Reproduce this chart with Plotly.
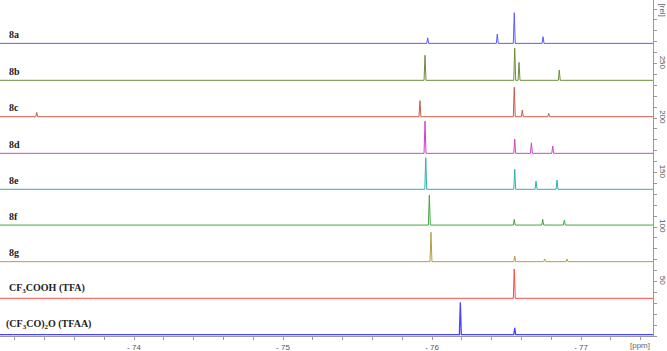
import plotly.graph_objects as go

# ---- data ----
labels = ["8a", "8b", "8c", "8d", "8e", "8f", "8g",
          "CF<sub>3</sub>COOH (TFA)", "(CF<sub>3</sub>CO)<sub>2</sub>O (TFAA)"]
offsets = [268.5, 234.6, 201.2, 167.6, 134.6, 101.8, 68.2, 34.6, 1.2]
peak_ppm = [
    [-75.971, -76.438, -76.552, -76.745],
    [-75.953, -76.555, -76.584, -76.854],
    [-73.347, -75.919, -76.552, -76.606, -76.783],
    [-75.953, -76.555, -76.667, -76.810],
    [-75.958, -76.555, -76.698, -76.839],
    [-75.982, -76.552, -76.743, -76.888],
    [-75.993, -76.555, -76.756, -76.906],
    [-76.552],
    [-76.190, -76.555],
]
peak_height = [
    [5.1, 8.5, 28.1, 6.1],
    [23.0, 29.4, 16.5, 9.4],
    [4.0, 14.7, 27.0, 6.1, 3.1],
    [29.6, 13.1, 9.7, 6.7],
    [29.0, 18.3, 7.6, 8.5],
    [27.5, 5.2, 5.2, 4.6],
    [27.0, 5.2, 2.5, 2.5],
    [26.9],
    [29.7, 6.4],
]
x_tick_vals = [-74, -75, -76, -77]
x_tick_text = ["- 74", "- 75", "- 76", "- 77"]
y_tick_vals = [50, 100, 150, 200, 250]

# ---- styles ----
colors = ["#5a5aff", "#6b8e3a", "#c85a48", "#d040d0", "#30b0b0",
          "#40a840", "#b0a040", "#ff4545", "#4545ff"]
X_LEFT, X_RIGHT = -73.1007, -77.483
W = 0.0065

fig = go.Figure()
for lab, off, pp, hh, col in zip(labels, offsets, peak_ppm, peak_height, colors):
    xs = [X_LEFT]
    ys = [off]
    for p, h in sorted(zip(pp, hh), key=lambda t: -t[0]):
        xs += [p + W, p, p - W]
        ys += [off, off + h, off]
    xs.append(X_RIGHT)
    ys.append(off)
    fig.add_trace(go.Scatter(x=xs, y=ys, mode="lines",
                             line=dict(color=col, width=1.3 if "TFAA" in lab else 1),
                             hoverinfo="skip", showlegend=False))
    fig.add_annotation(x=0.011 if "TFAA" not in lab else 0.006, xref="paper",
                       y=off + 1.3, yref="y", text="<b>%s</b>" % lab,
                       showarrow=False, xanchor="left", yanchor="bottom",
                       font=dict(family="Liberation Serif", size=10, color="#222"))

fig.add_annotation(x=1.0, xref="paper", xshift=9, y=1.0, yref="paper", yshift=-1,
                   text="[rel]", textangle=90, showarrow=False,
                   xanchor="center", yanchor="top",
                   font=dict(family="Liberation Sans", size=8, color="#666"))
fig.add_annotation(x=0.98, xref="paper", y=0, yref="paper", yshift=-3,
                   text="[ppm]", showarrow=False, xanchor="center", yanchor="top",
                   font=dict(family="Liberation Sans", size=8, color="#666"))

fig.update_layout(
    width=667, height=351,
    margin=dict(l=0, r=14, t=0, b=15, autoexpand=False),
    paper_bgcolor="white", plot_bgcolor="white",
    xaxis=dict(range=[X_LEFT, X_RIGHT], showgrid=False, zeroline=False, automargin=False,
               showline=True, linecolor="#999", linewidth=1,
               tickvals=x_tick_vals, ticktext=x_tick_text,
               ticks="outside", ticklen=3, tickcolor="#999", ticklabelstandoff=0,
               minor=dict(dtick=0.2, tick0=-74, ticks="outside", ticklen=3, tickcolor="#999"),
               tickfont=dict(family="Liberation Sans", size=8, color="#555")),
    yaxis=dict(range=[0, 308.3], side="right", showgrid=False, zeroline=False, automargin=False,
               showline=True, linecolor="#999", linewidth=1,
               tickvals=y_tick_vals, ticks="outside", ticklen=3, tickcolor="#999",
               tickangle=90, ticklabelstandoff=0,
               minor=dict(dtick=10, tick0=0, ticks="outside", ticklen=3, tickcolor="#999"),
               tickfont=dict(family="Liberation Sans", size=8, color="#555")),
)

fig.write_html("out.html", config={"displayModeBar": False},
               post_script="document.body.style.margin='0';document.body.style.overflow='hidden';")
